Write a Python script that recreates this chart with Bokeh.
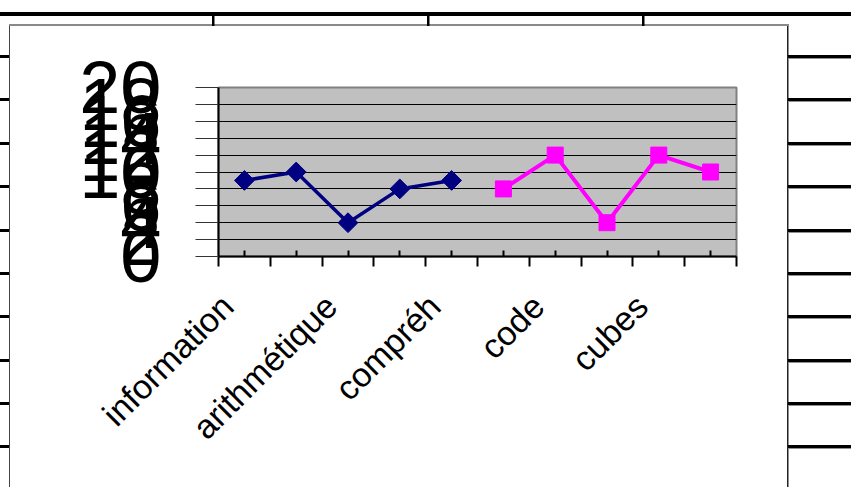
import math
from bokeh.plotting import figure
from bokeh.models import (Range1d, FixedTicker, ColumnDataSource, Column, Row, Spacer,
                          LinearAxis)
from bokeh.embed import file_html
from bokeh.resources import INLINE

# ---- data ----
tick_labels = ["information", "", "arithmétique", "", "compréh", "", "code", "", "cubes", ""]
cat_index = list(range(len(tick_labels)))
verbal_idx = [0, 1, 2, 3, 4]
verbal_vals = [9, 10, 4, 8, 9]
perf_idx = [5, 6, 7, 8, 9]
perf_vals = [8, 12, 4, 12, 10]
y_ticks = [0, 2, 4, 6, 8, 10, 12, 14, 16, 18, 20]

PW, PH = 777, 461
p = figure(width=PW, height=PH, output_backend="svg", toolbar_location=None,
           x_range=Range1d(0, len(tick_labels)), y_range=Range1d(0, 20),
           min_border_left=208, min_border_right=51, min_border_top=61, min_border_bottom=231)
p.background_fill_color = "#C0C0C0"
p.border_fill_color = "white"
p.outline_line_color = "#808080"
p.outline_line_width = 2

centers = [i + 0.5 for i in cat_index]
bounds = list(range(len(tick_labels) + 1))

# x axis: ticks only (labels drawn by a companion axis just below, nudged like Excel's anchoring)
xa = p.xaxis[0]
xa.ticker = FixedTicker(ticks=centers, minor_ticks=bounds)
xa.major_label_text_color = None
xa.major_label_standoff = 0
xa.axis_line_color = "black"
xa.axis_line_width = 2
xa.major_tick_in = 6
xa.major_tick_out = 0
xa.major_tick_line_width = 2
xa.major_tick_line_color = "black"
xa.minor_tick_in = 0
xa.minor_tick_out = 10
xa.minor_tick_line_width = 2
xa.minor_tick_line_color = "black"

label_shift = -0.33
shown = [(c + label_shift, lab) for c, lab in zip(centers, tick_labels) if lab]
xl = LinearAxis(ticker=FixedTicker(ticks=[s[0] for s in shown], minor_ticks=[]),
                major_label_overrides={pos: lab for pos, lab in shown},
                major_label_orientation=math.pi / 4,
                major_label_text_font="Liberation Sans",
                major_label_text_font_size="34px",
                major_label_text_color="black",
                major_label_standoff=34,
                axis_line_color=None, major_tick_line_color=None, minor_tick_line_color=None,
                major_tick_in=0, major_tick_out=0, minor_tick_in=0, minor_tick_out=0)
p.add_layout(xl, "below")

# y axis
ya = p.yaxis[0]
ya.ticker = FixedTicker(ticks=y_ticks)
ya.major_label_text_font = "Liberation Sans"
ya.major_label_text_font_size = "74px"
ya.major_label_text_color = "black"
ya.major_label_standoff = 34
ya.axis_line_color = "black"
ya.axis_line_width = 2
ya.major_tick_in = 0
ya.major_tick_out = 23
ya.major_tick_line_color = "#333333"
ya.major_tick_line_width = 1
ya.minor_tick_line_color = None

p.xgrid.visible = False
p.ygrid.ticker = FixedTicker(ticks=y_ticks)
p.ygrid.grid_line_color = "black"
p.ygrid.grid_line_width = 1

# series
src_v = ColumnDataSource(dict(x=[centers[i] for i in verbal_idx], y=verbal_vals))
src_p = ColumnDataSource(dict(x=[centers[i] for i in perf_idx], y=perf_vals))
p.line("x", "y", source=src_v, line_color="#000080", line_width=3.5)
p.scatter("x", "y", source=src_v, marker="square", angle=math.pi / 4, size=14,
          fill_color="#000080", line_color="#000080")
p.line("x", "y", source=src_p, line_color="#FF00FF", line_width=4)
p.scatter("x", "y", source=src_p, marker="square", size=16,
          fill_color="#FF00FF", line_color="#FF00FF")

# ---- page decoration: table rules behind the embedded chart (CSS background) ----
layers = []
def rect(x, y, w, h, color="#000"):
    layers.append((f"linear-gradient({color},{color})", f"{x}px {y}px", f"{w}px {h}px"))

rect(0, 12, 851, 4)
for vx in [212, 427, 642]:
    rect(vx, 14, 2.5, 12)
for ry in [56.7, 100, 144, 187, 231, 274, 317, 361, 404, 447]:
    rect(788, ry - 2, 63, 3)
    rect(788, ry + 1, 63, 1, "#909090")
    rect(0, ry - 2, 9, 3)
rect(9, 24, 780, 2, "#8a8a8a")
rect(9, 24, 1, 463, "#444")
rect(787, 24, 1.5, 463, "#222")

styles = {
    "background-color": "white",
    "background-image": ", ".join(l[0] for l in layers),
    "background-position": ", ".join(l[1] for l in layers),
    "background-size": ", ".join(l[2] for l in layers),
    "background-repeat": "no-repeat",
}

layout = Column(children=[Spacer(width=851, height=26),
                          Row(children=[Spacer(width=10, height=PH), p], width=851, height=PH)],
                width=851, height=487, styles=styles)

open("out.html", "w").write(file_html(layout, INLINE))
